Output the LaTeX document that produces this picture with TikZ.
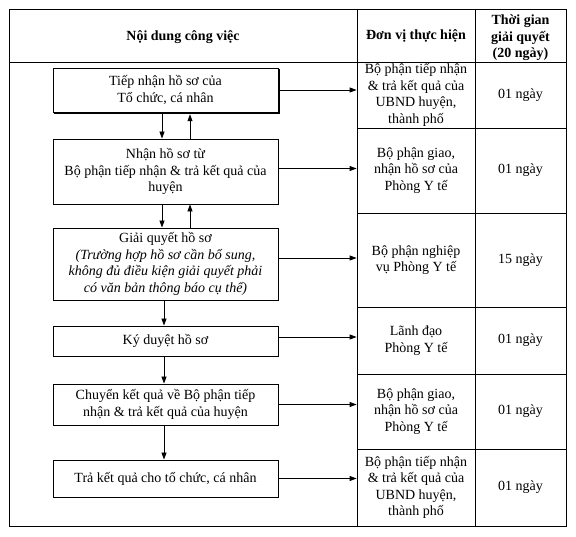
\documentclass[tikz,border=0pt]{standalone}
\usepackage{fontspec}
\setmainfont{Liberation Serif}
\usetikzlibrary{arrows.meta}
\begin{document}
\begin{tikzpicture}[x=1pt,y=-1pt,
  txt/.style={font=\fontsize{14}{16.5}\selectfont, align=center, inner sep=0pt},
  box/.style={txt, draw, line width=0.9pt, minimum width=225pt, fill=white},
  cell/.style={txt, draw, line width=0.8pt},
  c2/.style={cell, minimum width=118pt},
  c3/.style={cell, minimum width=91pt},
  hdr/.style={txt, font=\fontsize{14}{16.5}\selectfont\bfseries},
  arr/.style={line width=0.8pt, -{Triangle[length=7pt,width=5pt]}},
  shadowline/.style={line width=1.8pt}]
\useasboundingbox (0,0) rectangle (576,537);
% frame
\draw[line width=0.9pt] (9,9) rectangle (566,526);
\draw[line width=0.8pt] (9,62) -- (357,62);
\node[hdr] (h1) at (183,37) {Nội dung công việc};
% table cells
\node[c2, minimum height=53pt, font=\fontsize{14}{16.5}\selectfont\bfseries] (h2) at (416,35.5) {Đơn vị thực hiện};
\node[c3, minimum height=53pt] (h3) at (520.5,35.5) {};
\node[hdr] (h3t) at (520.5,38) {Thời gian\\giải quyết\\(20 ngày)};
\node[c2, minimum height=66pt] (u1) at (416,95) {Bộ phận tiếp nhận\\\& trả kết quả của\\UBND huyện,\\thành phố};
\node[c3, minimum height=66pt] (t1) at (520.5,95) {01 ngày};
\node[c2, minimum height=85pt] (u2) at (416,170.5) {Bộ phận giao,\\nhận hồ sơ của\\Phòng Y tế};
\node[c3, minimum height=85pt] (t2) at (520.5,170.5) {01 ngày};
\node[c2, minimum height=94pt] (u3) at (416,260) {Bộ phận nghiệp\\vụ Phòng Y tế};
\node[c3, minimum height=94pt] (t3) at (520.5,260) {15 ngày};
\node[c2, minimum height=67pt] (u4) at (416,340.5) {Lãnh đạo\\Phòng Y tế};
\node[c3, minimum height=67pt] (t4) at (520.5,340.5) {01 ngày};
\node[c2, minimum height=75pt] (u5) at (416,411.5) {Bộ phận giao,\\nhận hồ sơ của\\Phòng Y tế};
\node[c3, minimum height=75pt] (t5) at (520.5,411.5) {01 ngày};
\node[c2, minimum height=77pt] (u6) at (416,487.5) {Bộ phận tiếp nhận\\\& trả kết quả của\\UBND huyện,\\thành phố};
\node[c3, minimum height=77pt] (t6) at (520.5,487.5) {01 ngày};
% process boxes
\node[box, minimum height=44pt] (b1) at (165.5,90) {Tiếp nhận hồ sơ của\\Tổ chức, cá nhân};
\draw[shadowline] ([xshift=0.9pt,yshift=-1.5pt]b1.north east) -- ([xshift=0.9pt,yshift=-0.9pt]b1.south east) -- ([xshift=1.5pt,yshift=-0.9pt]b1.south west);
\node[box, minimum height=65pt] (b2) at (165.5,171.5) {Nhận hồ sơ từ\\Bộ phận tiếp nhận \& trả kết quả của\\huyện};
\node[box, minimum height=72pt] (b3) at (165.5,264) {Giải quyết hồ sơ\\\itshape (Trường hợp hồ sơ cần bổ sung,\\\itshape không đủ điều kiện giải quyết phải\\\itshape có văn bản thông báo cụ thể)};
\node[box, minimum height=30pt] (b4) at (165.5,341) {Ký duyệt hồ sơ};
\node[box, minimum height=41pt] (b5) at (165.5,404.5) {Chuyển kết quả về Bộ phận tiếp\\nhận \& trả kết quả của huyện};
\node[box, minimum height=37pt] (b6) at (165.5,478.5) {Trả kết quả cho tổ chức, cá nhân};
% vertical arrows
\draw[arr] ([xshift=-3.5pt,yshift=-1.5pt]b1.south) -- ([xshift=-3.5pt]b2.north);
\draw[arr] ([xshift=24.5pt]b2.north) -- ([xshift=24.5pt,yshift=-1.8pt]b1.south);
\draw[arr] ([xshift=-3.5pt]b2.south) -- ([xshift=-3.5pt]b3.north);
\draw[arr] ([xshift=24.5pt]b3.north) -- ([xshift=24.5pt]b2.south);
\draw[arr] ([xshift=-1.5pt]b3.south) -- ([xshift=-1.5pt]b4.north);
\draw[arr] ([xshift=-1.5pt]b4.south) -- ([xshift=-1.5pt]b5.north);
\draw[arr] ([xshift=-1.5pt]b5.south) -- ([xshift=-1.5pt]b6.north);
% horizontal arrows
\draw[arr] ([xshift=1.8pt]b1.east) -- (b1.east -| u1.west);
\draw[arr] ([yshift=3pt]b2.east) -- ([yshift=3pt]b2.east -| u2.west);
\draw[arr] ([yshift=6pt]b3.east) -- ([yshift=6pt]b3.east -| u3.west);
\draw[arr] ([yshift=4pt]b4.east) -- ([yshift=4pt]b4.east -| u4.west);
\draw[arr] (b5.east) -- (b5.east -| u5.west);
\draw[arr] (b6.east) -- (b6.east -| u6.west);
\end{tikzpicture}
\end{document}
